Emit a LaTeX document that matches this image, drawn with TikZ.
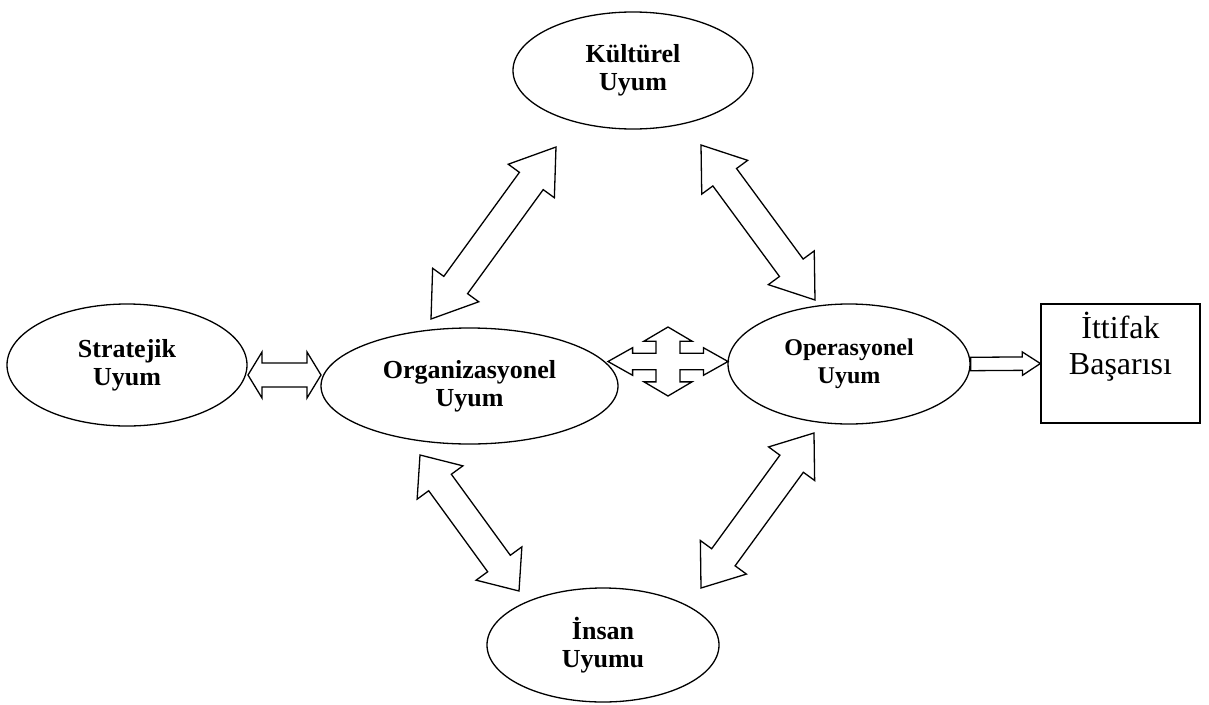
\documentclass[tikz,border=0pt]{standalone}
\usepackage{fontspec}
\setmainfont{Liberation Serif}
\usetikzlibrary{shapes.geometric,calc}

\tikzset{
  x=1pt, y=1pt,
  bubble/.style={ellipse, draw, line width=1.3pt, inner sep=0pt, align=center,
    font=\bfseries\fontsize{26}{28}\selectfont},
  goalbox/.style={rectangle, draw, line width=1.3pt, inner sep=0pt, align=center,
    font=\fontsize{32}{36}\selectfont},
  blockarrow/.style={draw, line width=1.3pt, fill=white, line join=miter},
}

% frame of the segment #1 -> #2: origin, angle and length
\newcommand\segframe[2]{%
  \path let \p1=(#1), \p2=(#2) in \pgfextra{%
    \pgfmathsetmacro\baTmpA{atan2(\y2-\y1,\x2-\x1)}%
    \pgfmathsetmacro\baTmpL{veclen(\x2-\x1,\y2-\y1)}%
    \xdef\baAng{\baTmpA}\xdef\baLen{\baTmpL}\xdef\baX{\x1}\xdef\baY{\y1}};}

% double-headed block arrow: ends, shaft half width, head half width, head length
\newcommand\twoway[5]{%
  \segframe{#1}{#2}%
  \draw[blockarrow, shift={(\baX,\baY)}, rotate=\baAng]
    (0,0) -- (#5,#4) -- (#5,#3) -- ({\baLen-#5},#3) -- ({\baLen-#5},#4) -- (\baLen,0)
    -- ({\baLen-#5},-#4) -- ({\baLen-#5},-#3) -- (#5,-#3) -- (#5,-#4) -- cycle;}

% single-headed block arrow
\newcommand\oneway[5]{%
  \segframe{#1}{#2}%
  \draw[blockarrow, shift={(\baX,\baY)}, rotate=\baAng]
    (0,#3) -- ({\baLen-#5},#3) -- ({\baLen-#5},#4) -- (\baLen,0)
    -- ({\baLen-#5},-#4) -- ({\baLen-#5},-#3) -- (0,-#3) -- cycle;}

\begin{document}
\begin{tikzpicture}
\useasboundingbox (0,0) rectangle (1209,-704);

% the five kinds of fit
\node[bubble, minimum width=240, minimum height=117] (kul) at (633,-70.5) {Kültürel\\Uyum};
\node[bubble, minimum width=240, minimum height=122] (str) at (127,-365) {Stratejik\\Uyum};
\node[bubble, minimum width=297, minimum height=116] (org) at (469.5,-386) {Organizasyonel\\Uyum};
\node[bubble, minimum width=242, minimum height=120, font=\bfseries\fontsize{24}{28}\selectfont]
  (ops) at (849,-364) {Operasyonel\\Uyum};
\node[bubble, minimum width=232, minimum height=114] (ins) at (603,-645) {İnsan\\Uyumu};

% outcome
\node[goalbox, minimum width=159, minimum height=119] (goal) at (1120.5,-363.5)
  {İttifak\\Başarısı\\[4pt]};

% arrow ends
\coordinate (ko1) at (431,-319);  \coordinate (ko2) at (556,-147);
\coordinate (kp1) at (701,-145);  \coordinate (kp2) at (815,-300);
\coordinate (oi1) at (420,-455);  \coordinate (oi2) at (519,-591);
\coordinate (ip1) at (701,-588);  \coordinate (ip2) at (814,-433);
\coordinate (so1) at (248,-375);  \coordinate (so2) at (321,-375);
\coordinate (pg1) at (ops.east);  \coordinate (pg2) at (goal.west);
\coordinate (quad) at (668,-361.5);

\twoway{ko1}{ko2}{14.7}{28.5}{42}
\twoway{kp1}{kp2}{14.7}{28.5}{40}
\twoway{oi1}{oi2}{14}{28.3}{34}
\twoway{ip1}{ip2}{14.5}{28.5}{38}
\twoway{so1}{so2}{12}{23}{14}
\oneway{pg1}{pg2}{6.7}{11.7}{18}

% four-way arrow between organisational and operational fit
\begin{scope}[shift={(quad)}, xscale=60, yscale=34.5]
  \draw[blockarrow]
    (-1,0) -- (-0.59,-0.4) -- (-0.59,-0.24) -- (-0.2,-0.24) -- (-0.2,-0.59) -- (-0.4,-0.59)
    -- (0,-1) -- (0.4,-0.59) -- (0.2,-0.59) -- (0.2,-0.24) -- (0.59,-0.24) -- (0.59,-0.4)
    -- (1,0) -- (0.59,0.4) -- (0.59,0.24) -- (0.2,0.24) -- (0.2,0.59) -- (0.4,0.59)
    -- (0,1) -- (-0.4,0.59) -- (-0.2,0.59) -- (-0.2,0.24) -- (-0.59,0.24) -- (-0.59,0.4) -- cycle;
\end{scope}
\end{tikzpicture}
\end{document}
